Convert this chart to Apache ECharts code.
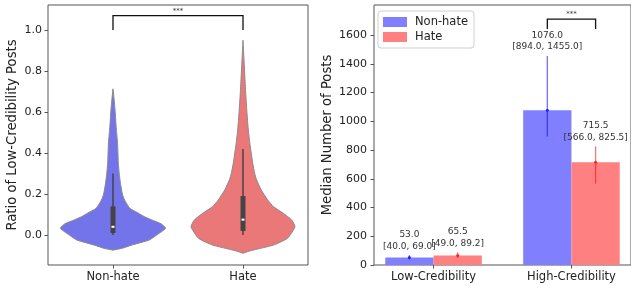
<!DOCTYPE html>
<html>
<head>
<meta charset="utf-8">
<script src="https://cdn.jsdelivr.net/npm/echarts@6/dist/echarts.min.js"></script>
<style>
  html, body { margin: 0; padding: 0; background: #fff; }
  #chart { width: 631px; height: 289px; }
</style>
</head>
<body>
<div id="chart"></div>
<script>
// 左图：小提琴图数据（y 值与半宽，单位为 x 轴数据单位）
const violinGroups = ['Non-hate', 'Hate'];
const nonHateViolinY = [-0.074, -0.065, -0.049, -0.024, 0.008, 0.033, 0.055, 0.073, 0.09, 0.106, 0.13, 0.171, 0.2, 0.25, 0.3, 0.35, 0.4, 0.45, 0.5, 0.55, 0.6, 0.66, 0.713];
const nonHateViolinW = [0, 0.07, 0.145, 0.28, 0.355, 0.405, 0.37, 0.30, 0.24, 0.197, 0.13, 0.089, 0.072, 0.058, 0.048, 0.041, 0.038, 0.035, 0.028, 0.022, 0.017, 0.009, 0];
const hateViolinY = [-0.089, -0.08, -0.073, -0.049, -0.016, 0.04, 0.073, 0.106, 0.138, 0.171, 0.22, 0.268, 0.3, 0.35, 0.4, 0.45, 0.5, 0.55, 0.6, 0.65, 0.7, 0.75, 0.8, 0.85, 0.9, 0.95];
const hateViolinW = [0, 0.04, 0.082, 0.235, 0.343, 0.40, 0.375, 0.31, 0.235, 0.19, 0.14, 0.105, 0.09, 0.075, 0.063, 0.052, 0.043, 0.036, 0.03, 0.025, 0.02, 0.016, 0.012, 0.008, 0.004, 0];
// 箱线：[下须, Q1, 中位数, Q3, 上须]
const nonHateBox = [0, 0.01, 0.04, 0.14, 0.30];
const hateBox = [0, 0.02, 0.075, 0.19, 0.42];
const violinTicks = [0, 0.2, 0.4, 0.6, 0.8, 1.0];

// 右图：柱状图数据
const credCats = ['Low-Credibility', 'High-Credibility'];
const nonHateMedian = [53.0, 1076.0];
const nonHateLow = [40.0, 894.0];
const nonHateHigh = [69.0, 1455.0];
const hateMedian = [65.5, 715.5];
const hateLow = [49.0, 566.0];
const hateHigh = [89.2, 825.5];
const barTicks = [0, 200, 400, 600, 800, 1000, 1200, 1400, 1600];

const chart = echarts.init(document.getElementById('chart'));

const violinColors = ['#7474ea', '#eb7878'];
const violinSets = [
  { ys: nonHateViolinY, ws: nonHateViolinW, box: nonHateBox },
  { ys: hateViolinY, ws: hateViolinW, box: hateBox }
];

function renderViolin(params, api) {
  const i = params.dataIndex;
  const set = violinSets[i];
  const pts = [];
  for (let k = 0; k < set.ys.length; k++) pts.push(api.coord([i + set.ws[k], set.ys[k]]));
  for (let k = set.ys.length - 1; k >= 0; k--) pts.push(api.coord([i - set.ws[k], set.ys[k]]));
  const b = set.box;
  const cx = api.coord([i, 0])[0];
  const yW0 = api.coord([i, b[0]])[1];
  const yQ1 = api.coord([i, b[1]])[1];
  const yMed = api.coord([i, b[2]])[1];
  const yQ3 = api.coord([i, b[3]])[1];
  const yW1 = api.coord([i, b[4]])[1];
  return {
    type: 'group',
    children: [
      { type: 'polygon', shape: { points: pts, smooth: 0.15 }, style: { fill: violinColors[i], stroke: '#8a8a8a', lineWidth: 1 } },
      { type: 'line', shape: { x1: cx, y1: yW0, x2: cx, y2: yW1 }, style: { stroke: '#444', lineWidth: 1.5 } },
      { type: 'rect', shape: { x: cx - 2.5, y: yQ3, width: 5, height: yQ1 - yQ3 }, style: { fill: '#444' } },
      { type: 'rect', shape: { x: cx - 1.5, y: yMed - 1, width: 3, height: 2 }, style: { fill: '#fff' } }
    ]
  };
}

const barSets = {
  'Non-hate': { med: nonHateMedian, lo: nonHateLow, hi: nonHateHigh, offset: -0.175, fill: '#8080ff', err: 'rgba(0,0,255,0.55)', dot: '#2020ff' },
  'Hate': { med: hateMedian, lo: hateLow, hi: hateHigh, offset: 0.175, fill: '#ff8080', err: 'rgba(255,0,0,0.55)', dot: '#ff2020' }
};

function makeBarRender(name) {
  const s = barSets[name];
  return function (params, api) {
    const i = params.dataIndex;
    const x = i + s.offset;
    const w = api.size([0.35, 0])[0];
    const top = api.coord([x, s.med[i]]);
    const base = api.coord([x, 0]);
    const yLo = api.coord([x, s.lo[i]])[1];
    const yHi = api.coord([x, s.hi[i]])[1];
    return {
      type: 'group',
      children: [
        { type: 'rect', shape: { x: top[0] - w / 2, y: top[1], width: w, height: base[1] - top[1] }, style: { fill: s.fill } },
        { type: 'line', shape: { x1: top[0], y1: yLo, x2: top[0], y2: yHi }, style: { stroke: s.err, lineWidth: 1.3 } },
        { type: 'circle', shape: { cx: top[0], cy: top[1], r: 1.5 }, style: { fill: s.dot } },
        {
          type: 'text', x: top[0], y: yHi - 3, z2: 10,
          style: {
            text: s.med[i].toFixed(1) + '\n[' + s.lo[i].toFixed(1) + ', ' + s.hi[i].toFixed(1) + ']',
            align: 'center', verticalAlign: 'bottom', fontSize: 9, lineHeight: 11.5,
            fill: '#333', fontFamily: 'DejaVu Sans'
          }
        }
      ]
    };
  };
}

// 显著性标记括号
function bracket(x1, x2, yLow, yHigh) {
  return function (params, api) {
    const a = api.coord([x1, yLow]);
    const b = api.coord([x1, yHigh]);
    const c = api.coord([x2, yHigh]);
    const d = api.coord([x2, yLow]);
    return {
      type: 'group',
      children: [
        { type: 'polyline', shape: { points: [a, b, c, d] }, style: { stroke: '#111', lineWidth: 1.3, fill: null } },
        { type: 'text', x: (b[0] + c[0]) / 2, y: b[1] - 1, style: { text: '***', align: 'center', verticalAlign: 'bottom', fontSize: 7, fill: '#333', fontFamily: 'DejaVu Sans' } }
      ]
    };
  };
}

const axisFont = { fontFamily: 'DejaVu Sans', color: '#222' };
const tickStyle = { show: true, length: 3.5, lineStyle: { color: '#555' } };

const option = {
  animation: false,
  backgroundColor: '#fff',
  grid: [
    { left: 48, top: 5, width: 260, height: 260, show: true, borderColor: '#555', borderWidth: 1, backgroundColor: 'transparent' },
    { left: 374, top: 5, width: 259, height: 260, show: true, borderColor: '#555', borderWidth: 1, backgroundColor: 'transparent' }
  ],
  legend: {
    data: [
      { name: 'Non-hate', itemStyle: { color: '#8080ff' } },
      { name: 'Hate', itemStyle: { color: '#ff8080' } }
    ],
    orient: 'vertical', left: 378, top: 11,
    icon: 'rect', itemWidth: 24, itemHeight: 10, itemGap: 3,
    padding: [5, 6, 5, 5],
    borderColor: '#d0d0d0', borderWidth: 1, borderRadius: 3, backgroundColor: '#fff',
    textStyle: { fontSize: 11.5, fontFamily: 'DejaVu Sans', color: '#222', padding: [0, 0, 0, 3] },
    selectedMode: false
  },
  xAxis: [
    {
      type: 'value', gridIndex: 0, min: -0.5, max: 1.5,
      splitLine: { show: false }, axisLine: { show: false, onZero: false },
      axisTick: { ...tickStyle, customValues: [0, 1] },
      axisLabel: { customValues: [0, 1], margin: 6, fontSize: 11.5, ...axisFont, formatter: v => violinGroups[Math.round(v)] }
    },
    {
      type: 'value', gridIndex: 1, min: -0.4317, max: 1.4317,
      splitLine: { show: false }, axisLine: { show: false, onZero: false },
      axisTick: { ...tickStyle, customValues: [0, 1] },
      axisLabel: { customValues: [0, 1], margin: 6, fontSize: 11.5, ...axisFont, formatter: v => credCats[Math.round(v)] }
    }
  ],
  yAxis: [
    {
      type: 'value', gridIndex: 0, min: -0.1463, max: 1.122,
      name: 'Ratio of Low-Credibility Posts', nameLocation: 'middle', nameGap: 28.5,
      nameTextStyle: { fontSize: 13.2, ...axisFont },
      splitLine: { show: false }, axisLine: { show: false, onZero: false },
      axisTick: { ...tickStyle, customValues: violinTicks },
      axisLabel: { customValues: violinTicks, margin: 6, fontSize: 11, ...axisFont, formatter: v => v.toFixed(1) }
    },
    {
      type: 'value', gridIndex: 1, min: 0, max: 1809,
      name: 'Median Number of Posts', nameLocation: 'middle', nameGap: 39.5,
      nameTextStyle: { fontSize: 13.2, ...axisFont },
      splitLine: { show: false }, axisLine: { show: false, onZero: false },
      axisTick: { ...tickStyle, customValues: barTicks },
      axisLabel: { customValues: barTicks, margin: 7, fontSize: 11, ...axisFont, formatter: v => String(v) }
    }
  ],
  series: [
    {
      name: 'violins', type: 'custom', xAxisIndex: 0, yAxisIndex: 0,
      data: violinGroups.map((g, i) => [i]), renderItem: renderViolin, silent: true
    },
    {
      name: 'Non-hate', type: 'custom', xAxisIndex: 1, yAxisIndex: 1,
      itemStyle: { color: '#8080ff' },
      data: credCats.map((c, i) => [i, nonHateMedian[i]]), renderItem: makeBarRender('Non-hate')
    },
    {
      name: 'Hate', type: 'custom', xAxisIndex: 1, yAxisIndex: 1,
      itemStyle: { color: '#ff8080' },
      data: credCats.map((c, i) => [i, hateMedian[i]]), renderItem: makeBarRender('Hate')
    },
    {
      name: 'sig1', type: 'custom', xAxisIndex: 0, yAxisIndex: 0,
      data: [[0]], renderItem: bracket(0, 1, 1.0, 1.07), silent: true
    },
    {
      name: 'sig2', type: 'custom', xAxisIndex: 1, yAxisIndex: 1,
      data: [[0]], renderItem: bracket(1 - 0.175, 1 + 0.175, 1642, 1711), silent: true
    }
  ]
};

chart.setOption(option);
</script>
</body>
</html>
